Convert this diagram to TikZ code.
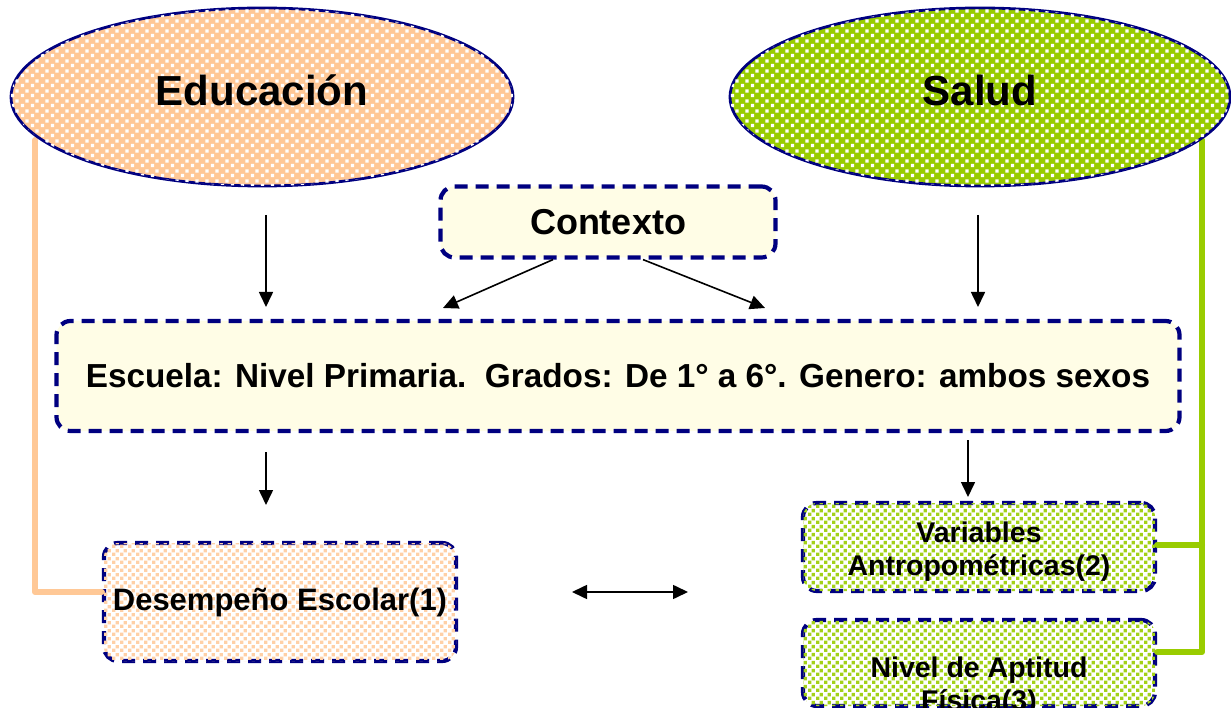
\documentclass[tikz,border=0pt]{standalone}
\usepackage{fontspec}
\setmainfont{Liberation Sans}
\usetikzlibrary{patterns.meta,arrows.meta,shapes.geometric,calc}
\definecolor{peach}{HTML}{FFC896}
\definecolor{lime}{HTML}{99CC00}
\definecolor{navyb}{HTML}{000080}
\definecolor{creamy}{HTML}{FFFDE6}
\tikzdeclarepattern{name=checkw, type=uncolored,
  bounding box={(0pt,0pt) and (10pt,10pt)}, tile size={(10pt,10pt)},
  code={\fill (1pt,1pt) rectangle (4.5pt,4.5pt); \fill (6pt,6pt) rectangle (9.5pt,9.5pt);}}
\tikzdeclarepattern{name=finesq, type=uncolored,
  bounding box={(0pt,0pt) and (8pt,8pt)}, tile size={(8pt,8pt)},
  code={\fill (0pt,0pt) rectangle (3.8pt,3.8pt); \fill (4pt,4pt) rectangle (7.8pt,7.8pt);}}
\begin{document}
\begin{tikzpicture}[x=1pt,y=-1pt,
  oval/.style={ellipse, draw=navyb, line width=2.8pt, inner sep=0pt, text depth=13pt, font=\fontsize{42}{46}\selectfont\bfseries},
  dbox/.style={draw=navyb, line width=4.2pt, dash pattern=on 13pt off 8pt, rounded corners=14pt, inner sep=0pt, align=center},
  btext/.style={align=center, inner sep=0pt, font=\fontsize{28.5}{33}\selectfont\bfseries},
  link/.style={line width=6pt, line cap=round, line join=round},
  arr/.style={line width=1.6pt, -{Triangle[length=15pt,width=14pt]}},
  darr/.style={line width=1.6pt, {Triangle[length=15pt,width=14pt]}-{Triangle[length=15pt,width=14pt]}}]
\useasboundingbox (0,0) rectangle (1231,708);
% connector anchor points
\coordinate (pl1) at (35,140);
\coordinate (pl2) at (35,592);
\coordinate (gl1) at (1202,140);
\coordinate (gl2) at (1202,652);
\coordinate (gl3) at (1202,545);
% lower boxes
\node (des) [dbox, minimum width=352pt, minimum height=118pt, fill=white,
  postaction={pattern=finesq, pattern color=peach!85!white},
  font=\fontsize{31}{35}\selectfont\bfseries] at (280,602) {Desempeño Escolar(1)};
\node (var) [dbox, minimum width=352pt, minimum height=88pt, fill=white,
  postaction={pattern=finesq, pattern color=lime!90!white}] at (979,547) {};
\node (vart) [btext] at (979,552) {Variables\\Antropométricas(2)};
\node (niv) [dbox, minimum width=352pt, minimum height=86pt, fill=white,
  postaction={pattern=finesq, pattern color=lime!90!white}] at (979,663) {};
\node (nivt) [btext] at (979,687) {Nivel de Aptitud\\Física(3)};
\draw[link, peach] (pl1) -- (pl2) -- (des.west |- pl2);
\draw[link, lime] (gl1) -- (gl2) -- (niv.east |- gl2);
\draw[link, lime] (gl3) -- (var.east |- gl3);
% ellipses
\node (edu) [oval, minimum width=502pt, minimum height=178pt, fill=peach,
  postaction={pattern=checkw, pattern color=white}] at (262,97) {Educación};
\node (sal) [oval, minimum width=500pt, minimum height=178pt, fill=lime,
  postaction={pattern=checkw, pattern color=white}] at (980,97) {Salud};
% context boxes
\node (ctx) [dbox, minimum width=335pt, minimum height=71pt, fill=creamy,
  font=\fontsize{36}{40}\selectfont\bfseries] at (608,222) {Contexto};
\node (esc) [dbox, minimum width=1123pt, minimum height=110pt, fill=creamy,
  font=\fontsize{33.3}{37}\selectfont\bfseries] at (618,376) {Escuela: Nivel Primaria.\ \ Grados: De 1° a 6°. Genero: ambos sexos};
% arrows
\coordinate (a1s) at (266,215); \coordinate (a1e) at (266,307);
\coordinate (a2s) at (978,215); \coordinate (a2e) at (978,307);
\coordinate (a3e) at (443,308); \coordinate (a4e) at (765,308);
\coordinate (a5s) at (266,452); \coordinate (a5e) at (266,505);
\coordinate (a6s) at (968,440); \coordinate (a6e) at (968,497);
\coordinate (a7s) at (572,592); \coordinate (a7e) at (688,592);
\draw[arr] (a1s) -- (a1e);
\draw[arr] (a2s) -- (a2e);
\draw[arr] (ctx.south -| 553,0) -- (a3e);
\draw[arr] (ctx.south -| 643,0) -- (a4e);
\draw[arr] (a5s) -- (a5e);
\draw[arr] (a6s) -- (a6e);
\draw[darr] (a7s) -- (a7e);
\end{tikzpicture}
\end{document}
